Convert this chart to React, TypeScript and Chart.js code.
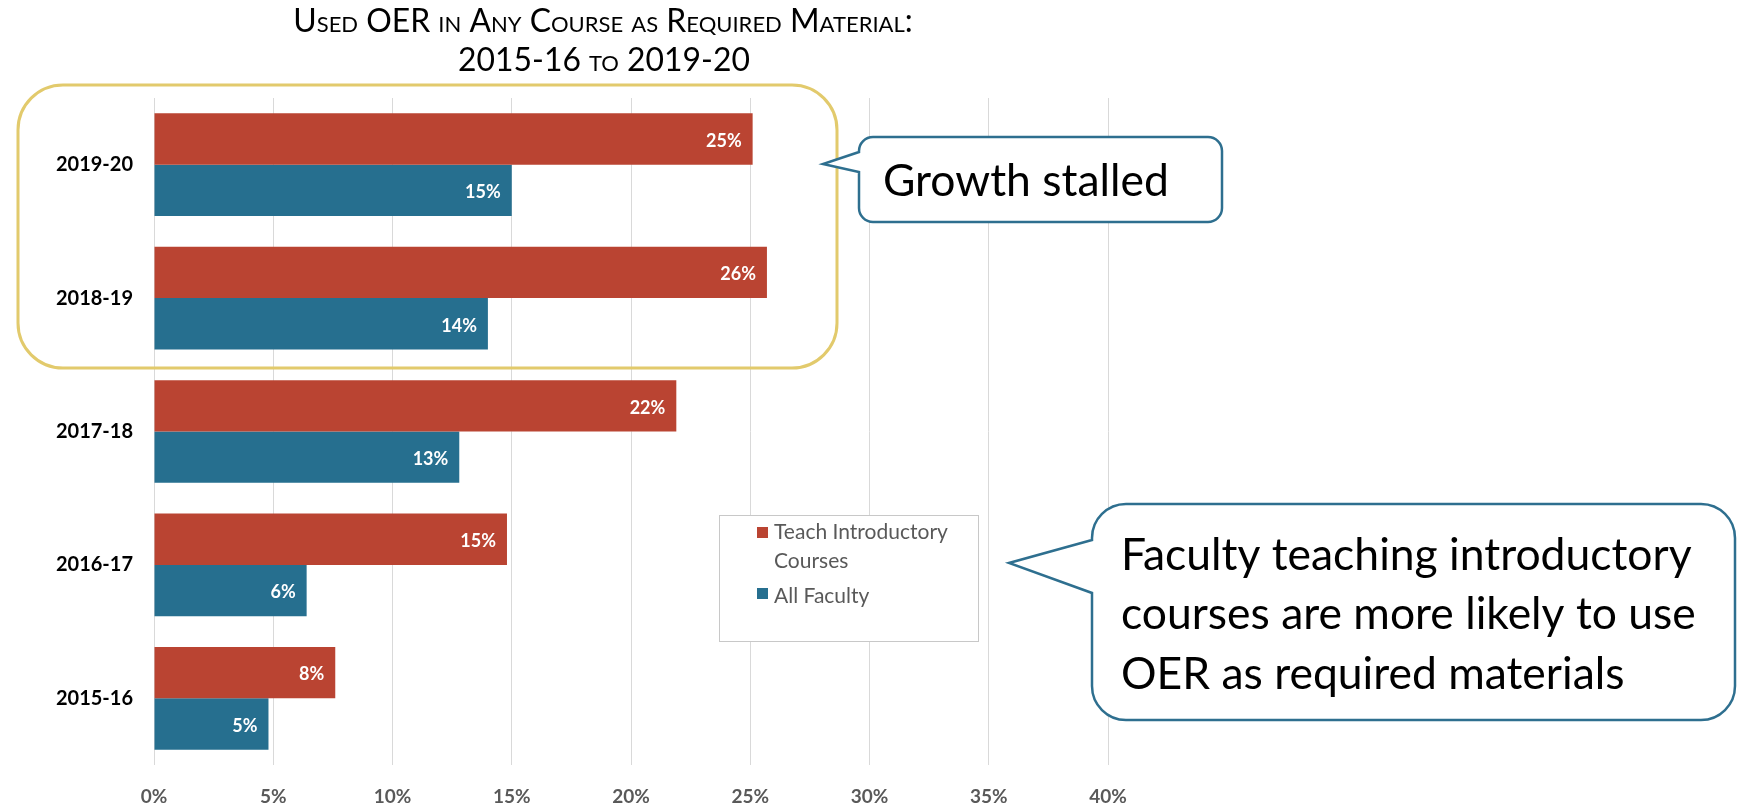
import React, { useEffect, useRef } from 'react';
import { Chart, registerables } from 'chart.js';

Chart.register(...registerables);

// ---------- data ----------
const categories = ['2019-20', '2018-19', '2017-18', '2016-17', '2015-16'];
const introValues = [25.1, 25.7, 21.9, 14.8, 7.6];
const allFacultyValues = [15.0, 14.0, 12.8, 6.4, 4.8];
const seriesNames = ['Teach Introductory Courses', 'All Faculty'];
const legendLines = [['Teach Introductory', 'Courses'], ['All Faculty']];
const xMax = 40;
const xStep = 5;
const titleLines = ['Used OER in Any Course as Required Material:', '2015-16 to 2019-20'];
const calloutTopText = 'Growth stalled';
const calloutBottomLines = [
  'Faculty teaching introductory',
  'courses are more likely to use',
  'OER as required materials',
];

// ---------- styles ----------
const RED = '#BA4432';
const BLUE = '#266F8F';
const FONT = 'Lato';
const CALLOUT_STROKE = '#2E6F8F';
const YELLOW = '#E2CA6C';

function fitSize(ctx: CanvasRenderingContext2D, text: string, target: number, weight: string, variant = '') {
  ctx.font = `${variant} ${weight} 100px ${FONT}`.trim();
  const w = ctx.measureText(text).width;
  return (100 * target) / w;
}

function roundRectPath(ctx: CanvasRenderingContext2D, x: number, y: number, w: number, h: number, r: number) {
  ctx.beginPath();
  ctx.moveTo(x + r, y);
  ctx.lineTo(x + w - r, y);
  ctx.arcTo(x + w, y, x + w, y + r, r);
  ctx.lineTo(x + w, y + h - r);
  ctx.arcTo(x + w, y + h, x + w - r, y + h, r);
  ctx.lineTo(x + r, y + h);
  ctx.arcTo(x, y + h, x, y + h - r, r);
  ctx.lineTo(x, y + r);
  ctx.arcTo(x, y, x + r, y, r);
  ctx.closePath();
}

function calloutPath(
  ctx: CanvasRenderingContext2D,
  x: number, y: number, w: number, h: number, r: number,
  tipX: number, tipY: number, j1: number, j2: number
) {
  ctx.beginPath();
  ctx.moveTo(x + r, y);
  ctx.lineTo(x + w - r, y);
  ctx.arcTo(x + w, y, x + w, y + r, r);
  ctx.lineTo(x + w, y + h - r);
  ctx.arcTo(x + w, y + h, x + w - r, y + h, r);
  ctx.lineTo(x + r, y + h);
  ctx.arcTo(x, y + h, x, y + h - r, r);
  ctx.lineTo(x, j2);
  ctx.lineTo(tipX, tipY);
  ctx.lineTo(x, j1);
  ctx.lineTo(x, y + r);
  ctx.arcTo(x, y, x + r, y, r);
  ctx.closePath();
}

const dataLabelPlugin = {
  id: 'dataLabels',
  afterDatasetsDraw(chart: any) {
    const ctx: CanvasRenderingContext2D = chart.ctx;
    ctx.save();
    ctx.font = `bold 18px ${FONT}`;
    ctx.fillStyle = '#ffffff';
    ctx.textAlign = 'right';
    ctx.textBaseline = 'middle';
    chart.data.datasets.forEach((ds: any, di: number) => {
      const meta = chart.getDatasetMeta(di);
      meta.data.forEach((bar: any, i: number) => {
        const v = ds.data[i];
        ctx.fillText(`${Math.round(v)}%`, bar.x - 11, bar.y + 2);
      });
    });
    ctx.restore();
  },
};

const decorPlugin = {
  id: 'decor',
  afterDraw(chart: any) {
    const ctx: CanvasRenderingContext2D = chart.ctx;
    ctx.save();

    // Title (small caps)
    ctx.fillStyle = '#000000';
    ctx.textAlign = 'center';
    ctx.textBaseline = 'alphabetic';
    const tSize = fitSize(ctx, titleLines[0], 625, '400', 'small-caps');
    ctx.font = `small-caps 400 ${tSize}px ${FONT}`;
    ctx.fillText(titleLines[0], 603, 31.5);
    ctx.fillText(titleLines[1], 604, 70.5);

    // Highlight box around the two most recent years
    ctx.lineWidth = 3;
    ctx.strokeStyle = YELLOW;
    roundRectPath(ctx, 18, 85, 819, 283, 45);
    ctx.stroke();

    // Callout: Growth stalled
    const cSize = fitSize(ctx, calloutBottomLines[1], 575, '400');
    ctx.lineWidth = 2.5;
    ctx.strokeStyle = CALLOUT_STROKE;
    ctx.fillStyle = '#ffffff';
    calloutPath(ctx, 859, 137, 363, 85, 14, 823, 164, 152, 172);
    ctx.fill();
    ctx.stroke();
    ctx.fillStyle = '#000000';
    ctx.textAlign = 'left';
    ctx.font = `400 ${cSize}px ${FONT}`;
    ctx.fillText(calloutTopText, 883, 196);

    // Callout: Faculty teaching...
    ctx.fillStyle = '#ffffff';
    calloutPath(ctx, 1092, 504, 643, 216, 34, 1009, 563, 540, 593);
    ctx.fill();
    ctx.stroke();
    ctx.fillStyle = '#000000';
    ctx.font = `400 ${cSize}px ${FONT}`;
    const baselines = [570, 629, 689];
    calloutBottomLines.forEach((line, i) => ctx.fillText(line, 1121, baselines[i]));

    // Legend
    ctx.fillStyle = '#ffffff';
    ctx.fillRect(719.5, 515.5, 259, 126);
    ctx.lineWidth = 1;
    ctx.strokeStyle = '#c8c8c8';
    ctx.strokeRect(719.5, 515.5, 259, 126);
    const lSize = fitSize(ctx, legendLines[0][0], 174, '400');
    ctx.font = `400 ${lSize}px ${FONT}`;
    ctx.fillStyle = '#595959';
    const legendSquareY = [527, 588];
    const legendBaselines = [[539, 568], [603]];
    chart.data.datasets.forEach((ds: any, di: number) => {
      ctx.fillStyle = ds.backgroundColor;
      ctx.fillRect(757, legendSquareY[di], 11, 11);
      ctx.fillStyle = '#595959';
      legendLines[di].forEach((line, li) => ctx.fillText(line, 774, legendBaselines[di][li]));
    });

    ctx.restore();
  },
};

export default function App() {
  const canvasRef = useRef<HTMLCanvasElement | null>(null);

  useEffect(() => {
    if (!canvasRef.current) return;
    const chart = new Chart(canvasRef.current, {
      type: 'bar',
      data: {
        labels: categories,
        datasets: [
          {
            label: seriesNames[0],
            data: introValues,
            backgroundColor: RED,
            categoryPercentage: 0.77,
            barPercentage: 1.0,
          },
          {
            label: seriesNames[1],
            data: allFacultyValues,
            backgroundColor: BLUE,
            categoryPercentage: 0.77,
            barPercentage: 1.0,
          },
        ],
      },
      options: {
        indexAxis: 'y',
        responsive: false,
        animation: false,
        devicePixelRatio: 1,
        layout: { padding: { left: 0, right: 1746 - 1108, top: 98, bottom: 0 } },
        plugins: {
          legend: { display: false },
          title: { display: false },
          tooltip: { enabled: false },
        },
        scales: {
          x: {
            min: 0,
            max: xMax,
            grid: { color: '#d9d9d9', lineWidth: 1, drawTicks: false },
            border: { display: false },
            ticks: {
              stepSize: xStep,
              padding: 20,
              color: '#595959',
              font: { family: FONT, size: 19, weight: 'bold' },
              callback: (v: any) => `${v}%`,
            },
            afterFit: (scale: any) => {
              scale.height = 806 - 765;
            },
          },
          y: {
            grid: { display: false, drawTicks: false },
            border: { display: false },
            ticks: {
              padding: 21,
              color: '#000000',
              font: { family: FONT, size: 20, weight: 'bold' },
            },
            afterFit: (scale: any) => {
              scale.width = 154;
            },
          },
        },
      },
      plugins: [dataLabelPlugin, decorPlugin],
    } as any);
    return () => chart.destroy();
  }, []);

  return (
    <div style={{ position: 'fixed', left: 0, top: 0, width: 1746, height: 806, background: '#ffffff' }}>
      <canvas ref={canvasRef} width={1746} height={806} style={{ display: 'block', width: 1746, height: 806 }} />
    </div>
  );
}
